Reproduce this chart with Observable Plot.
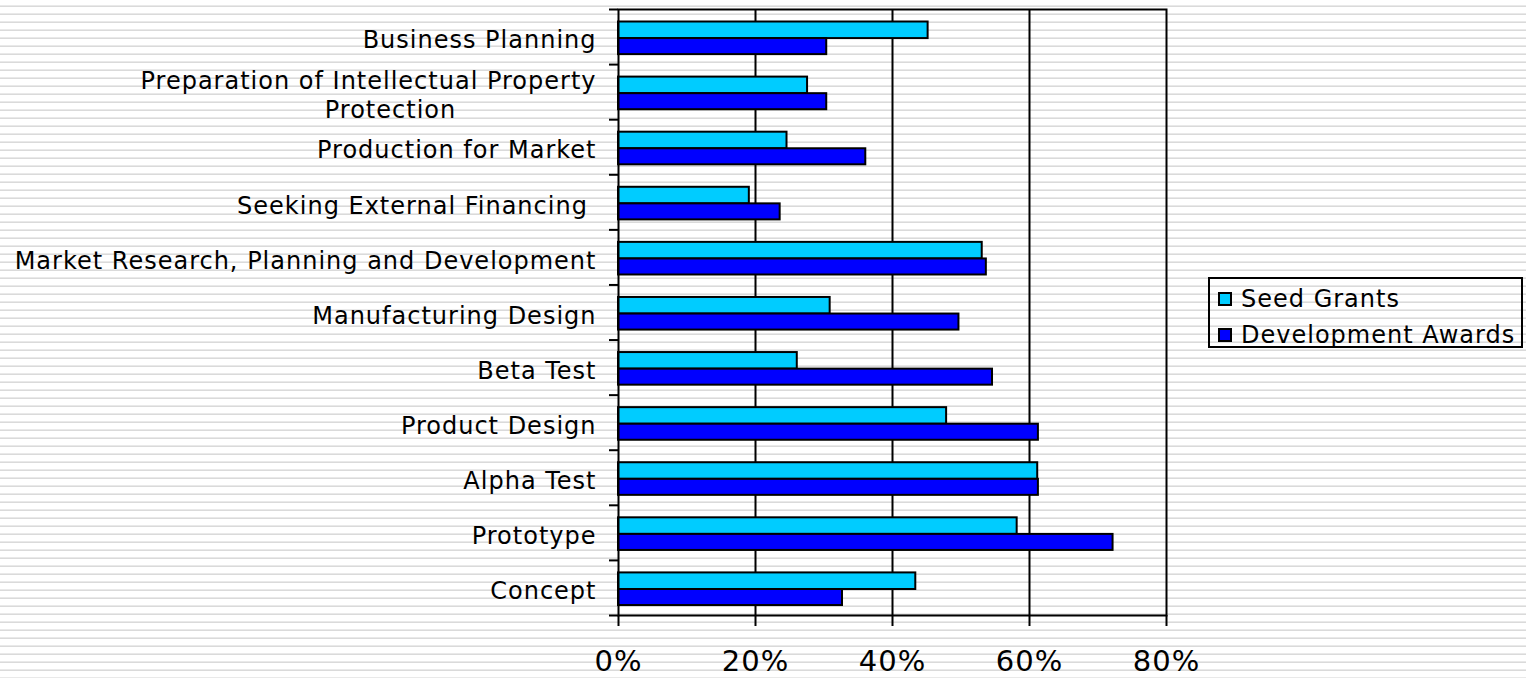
<!DOCTYPE html>
<html>
<head>
<meta charset="utf-8">
<script src="https://cdn.jsdelivr.net/npm/d3@7"></script>
<script src="https://cdn.jsdelivr.net/npm/@observablehq/plot@0.6"></script>
<style>
  html, body { margin: 0; padding: 0; overflow: hidden; }
  body {
    width: 1526px; height: 678px; position: relative;
    font-family: "DejaVu Sans", sans-serif;
    background: repeating-linear-gradient(to bottom,
      #ffffff 0px, #ffffff 5px, #e9e9e9 5px, #e9e9e9 6px,
      #dadada 6px, #dadada 7px, #ffffff 7px, #ffffff 8px);
  }
  #chart svg { display: block; }
  .legend {
    position: absolute; left: 1208px; top: 277px; width: 311px; height: 67px;
    border: 2px solid #000; font-size: 24px; letter-spacing: 1px; color: #000;
  }
  .legend .item { position: absolute; left: 8px; height: 30px; display: flex; align-items: center; white-space: nowrap; }
  .legend .sw { width: 10px; height: 10px; border: 2px solid #000; margin-right: 9px; }
</style>
</head>
<body>
<div id="chart"></div>
<div class="legend">
  <div class="item" style="top:5px"><span class="sw" style="background:#00CCFF"></span>Seed Grants</div>
  <div class="item" style="top:41px"><span class="sw" style="background:#0000FF"></span>Development Awards</div>
</div>
<script>
const categories = [
  "Business Planning",
  "Preparation of Intellectual Property Protection",
  "Production for Market",
  "Seeking External Financing",
  "Market Research, Planning and Development",
  "Manufacturing Design",
  "Beta Test",
  "Product Design",
  "Alpha Test",
  "Prototype",
  "Concept"
];
const seedGrants =        [0.452, 0.276, 0.246, 0.191, 0.531, 0.309, 0.261, 0.479, 0.612, 0.582, 0.434];
const developmentAwards = [0.304, 0.304, 0.361, 0.236, 0.537, 0.497, 0.546, 0.613, 0.613, 0.722, 0.327];
const xTicks = [0, 0.2, 0.4, 0.6, 0.8];
const seriesNames = ["Seed Grants", "Development Awards"];
const seriesColors = ["#00CCFF", "#0000FF"];

const idx = d3.range(categories.length);
const seedRows = idx.map(i => ({i, v: seedGrants[i]}));
const devRows = idx.map(i => ({i, v: developmentAwards[i]}));

// display text: wrap the long label, keep trailing space of "Seeking External Financing "
const displayLabel = c =>
  c === "Preparation of Intellectual Property Protection" ? "Preparation of Intellectual Property\n " :
  c === "Seeking External Financing" ? c + "\u00a0" : c;

const chart = Plot.plot({
  width: 1526,
  height: 678,
  marginLeft: 618,
  marginRight: 360,
  marginTop: 9,
  marginBottom: 63,
  style: {background: "transparent", fontFamily: "DejaVu Sans", letterSpacing: "1px", color: "#000"},
  x: {domain: [0, 0.8]},
  y: {domain: [0, categories.length], reverse: true},
  marks: [
    Plot.ruleX(xTicks.slice(1, -1), {stroke: "#000", strokeWidth: 2}),
    Plot.rectX(seedRows, {x1: 0, x2: "v", y1: d => d.i + 0.227, y2: d => d.i + 0.528,
      fill: seriesColors[0], stroke: "#000", strokeWidth: 2}),
    Plot.rectX(devRows, {x1: 0, x2: "v", y1: d => d.i + 0.528, y2: d => d.i + 0.819,
      fill: seriesColors[1], stroke: "#000", strokeWidth: 2}),
    Plot.frame({stroke: "#000", strokeWidth: 2}),
    Plot.axisX(xTicks, {tickSize: 11, tickPadding: 24, fontSize: 29, strokeWidth: 2,
      tickFormat: d3.format(".0%"), label: null}),
    Plot.axisY(d3.range(categories.length + 1), {tickSize: 9, strokeWidth: 2,
      tickFormat: () => "", label: null}),
    Plot.text(idx, {x: 0, y: i => i + 0.5, text: i => displayLabel(categories[i]),
      textAnchor: "end", lineAnchor: "middle", lineHeight: 1.2, dx: -22, dy: 2, fontSize: 24, fill: "#000"}),
    Plot.text([1], {x: 0, y: i => i + 0.5, text: () => "\nProtection",
      textAnchor: "middle", lineAnchor: "middle", lineHeight: 1.2, dx: -228, dy: 2, fontSize: 24, fill: "#000"})
  ]
});
document.getElementById("chart").appendChild(chart);
</script>
</body>
</html>
